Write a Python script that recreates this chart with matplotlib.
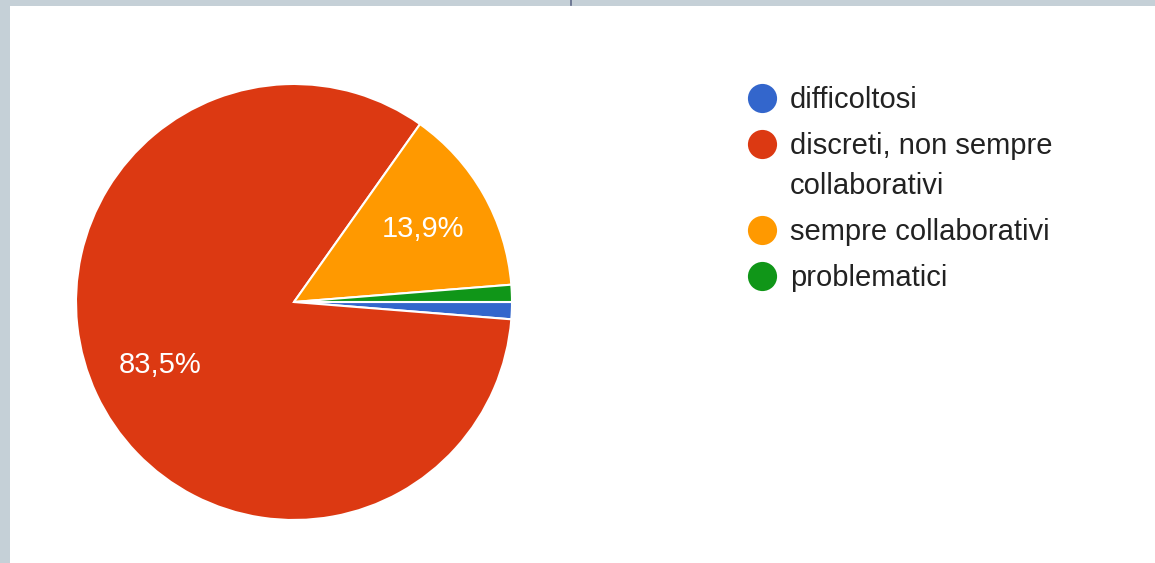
import matplotlib.pyplot as plt
from matplotlib.patches import Rectangle

# -------------------------
# Data (79 answers)
# -------------------------
labels = ["difficoltosi", "discreti, non sempre\ncollaborativi",
          "sempre collaborativi", "problematici"]
counts = [1, 66, 11, 1]
colors = ["#3366cc", "#dc3912", "#ff9900", "#109618"]

W, H = 1155, 563
plt.rcParams['font.family'] = ['Liberation Sans', 'DejaVu Sans']

fig = plt.figure(figsize=(W / 100, H / 100), dpi=100)
fig.patch.set_facecolor("#c5d0d7")

# white card on top of the grey page
fig.patches.append(Rectangle((10 / W, 0), 1 - 10 / W, 1 - 6 / H,
                             transform=fig.transFigure, facecolor="white",
                             edgecolor="none", zorder=-5))
# tiny marker at the top edge
fig.add_artist(plt.Line2D([571 / W, 571 / W], [1, 1 - 5 / H],
                          transform=fig.transFigure, color="#5f6a88", lw=1.2))

# -------------------------
# Pie
# -------------------------
cx, cy, r = 294, 302, 218
ax = fig.add_axes([(cx - r) / W, (H - cy - r) / H, 2 * r / W, 2 * r / H])
ax.set_zorder(2)


def fmt_pct(p):
    if p < 5:
        return ""
    return f"{p:.1f}%".replace(".", ",")


wedges, texts, autotexts = ax.pie(
    counts, colors=colors, startangle=0, counterclock=False,
    autopct=fmt_pct, pctdistance=0.68, radius=1,
    wedgeprops=dict(edgecolor="white", linewidth=1.5),
    textprops=dict(color="white", fontsize=21))
ax.set_xlim(-1, 1)
ax.set_ylim(-1, 1)
ax.set_aspect("equal")
ax.axis("off")

# -------------------------
# Legend (drawn by hand so the dot sits on the first line)
# -------------------------
y = 98
for lab, col in zip(labels, colors):
    yf = 1 - y / H
    fig.add_artist(plt.Line2D([762 / W], [yf], transform=fig.transFigure,
                              marker="o", markersize=21, color=col,
                              markeredgewidth=0, linestyle="none"))
    lines = lab.split("\n")
    for i, line in enumerate(lines):
        fig.text(790 / W, 1 - (y + 2 + 40 * i) / H, line, fontsize=21,
                 color="#222222", va="center", ha="left")
    y += 46 + 40 * (len(lines) - 1)

fig.savefig("out.png", dpi=100, facecolor=fig.get_facecolor())
